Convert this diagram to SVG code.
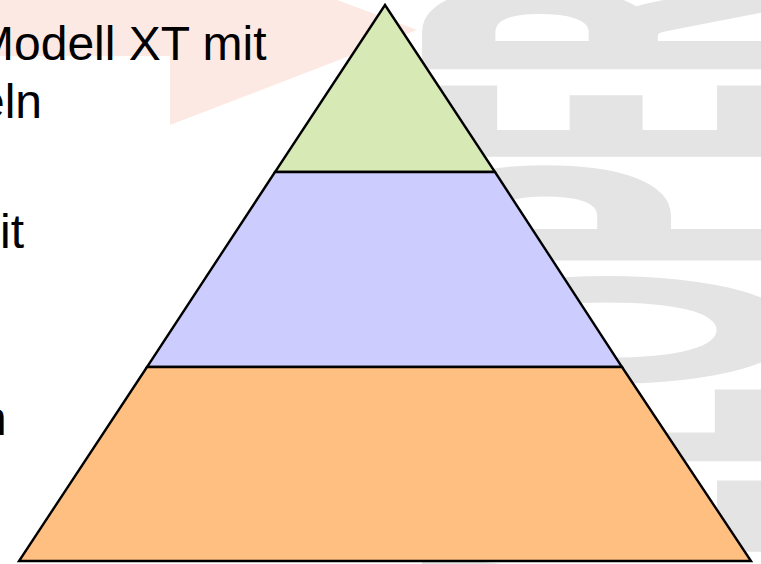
<svg xmlns="http://www.w3.org/2000/svg" width="761" height="564" viewBox="0 0 761 564">
  <style>
    .wm { font-family: "Lato", "DejaVu Sans", sans-serif; font-weight: 900; font-size: 485px; fill: #e4e4e4; stroke: #e4e4e4; stroke-width: 18; stroke-linejoin: miter; }
    .body { font-family: "Liberation Sans", Arial, sans-serif; font-size: 48px; fill: #000000; }
    .tier { stroke: #000000; stroke-width: 2.4; stroke-linejoin: miter; }
  </style>

  <rect x="0" y="0" width="761" height="564" fill="#ffffff"/>

  <!-- pale arrow in the upper left -->
  <polygon id="bg-arrow" points="0,-80 170,-80 170,-63 417,30 170,125 170,56 0,56" fill="#fde9e3"/>

  <!-- vertical watermark word, reading bottom to top -->
  <g id="watermark" transform="translate(783,0) rotate(-90)">
    <text class="wm" x="-840" textLength="100" lengthAdjust="spacingAndGlyphs">D</text>
    <text class="wm" x="-740" textLength="85" lengthAdjust="spacingAndGlyphs">E</text>
    <text class="wm" x="-655" textLength="95" lengthAdjust="spacingAndGlyphs">V</text>
    <text class="wm" x="-560" textLength="82" lengthAdjust="spacingAndGlyphs">E</text>
    <text class="wm" x="-470" textLength="80" lengthAdjust="spacingAndGlyphs">L</text>
    <text class="wm" x="-386" textLength="112" lengthAdjust="spacingAndGlyphs">O</text>
    <text class="wm" x="-270" textLength="105" lengthAdjust="spacingAndGlyphs">P</text>
    <text class="wm" x="-165" textLength="82" lengthAdjust="spacingAndGlyphs">E</text>
    <text class="wm" x="-78" textLength="98" lengthAdjust="spacingAndGlyphs">R</text>
  </g>

  <!-- left-hand bullet text -->
  <g id="bullets">
    <text class="body" x="-26" y="60">Modell XT mit</text>
    <text class="body" x="-22" y="118">eln</text>
    <text class="body" x="0" y="248">it</text>
    <text class="body" x="-20" y="435">n</text>
  </g>

  <!-- three-tier pyramid -->
  <g id="tier-top">
    <polygon class="tier" points="385,5 495,172 275,172" fill="#d7e9b4"/>
  </g>
  <g id="tier-middle">
    <polygon class="tier" points="275,172 495,172 622,367 147,367" fill="#ccccff"/>
  </g>
  <g id="tier-bottom">
    <polygon class="tier" points="147,367 622,367 751,561 19,561" fill="#ffbf80"/>
  </g>
</svg>
